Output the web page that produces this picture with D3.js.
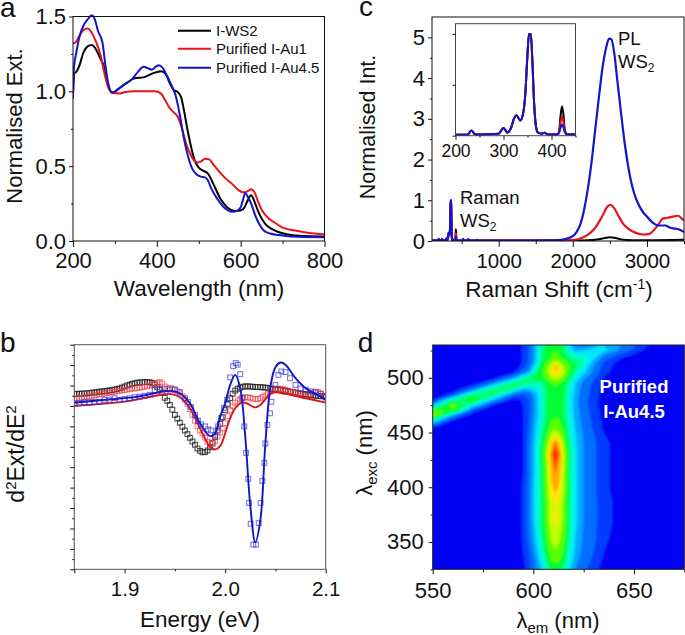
<!DOCTYPE html>
<html><head><meta charset="utf-8">
<script src="https://cdnjs.cloudflare.com/ajax/libs/d3/7.8.5/d3.min.js"></script>
<style>html,body{margin:0;padding:0;background:#fff}svg{display:block}text{font-family:"Liberation Sans",Arial,sans-serif;fill:#111}</style>
</head><body><svg id="c" width="685" height="635"></svg>
<script>
// ---------- panel a
const extLegend = ["I-WS2","Purified I-Au1","Purified I-Au4.5"];
const extBlack = [[200,.98],[203,1.12],[208,1.13],[215,1.17],[225,1.26],[235,1.30],[245,1.31],[255,1.28],[265,1.22],[272,1.18],[280,1.08],[288,1.01],[295,.99],[310,1.02],[330,1.06],[345,1.085],[370,1.095],[390,1.12],[410,1.135],[420,1.12],[430,1.06],[440,1.01],[450,.995],[458,.96],[465,.87],[472,.76],[480,.65],[490,.54],[500,.49],[510,.47],[522,.45],[530,.41],[540,.35],[550,.29],[560,.25],[570,.22],[580,.205],[590,.20],[600,.205],[608,.22],[615,.26],[625,.305],[632,.27],[640,.21],[650,.15],[660,.11],[675,.08],[690,.06],[710,.045],[740,.035],[800,.03]];
const extRed = [[200,1.32],[207,1.33],[215,1.37],[225,1.41],[235,1.42],[245,1.39],[255,1.33],[265,1.25],[275,1.12],[285,1.02],[295,.99],[310,.985],[325,.995],[345,1.0],[370,1.0],[395,1.0],[410,.985],[420,.94],[430,.89],[440,.86],[450,.83],[460,.75],[470,.65],[480,.58],[490,.535],[497,.525],[505,.53],[515,.55],[525,.545],[535,.51],[550,.46],[565,.415],[580,.38],[595,.34],[605,.325],[615,.33],[625,.345],[633,.325],[642,.26],[652,.2],[665,.155],[680,.125],[700,.09],[730,.07],[760,.055],[800,.045]];
const extBlue = [[200,.95],[202,1.15],[208,1.26],[215,1.36],[225,1.44],[235,1.48],[245,1.51],[252,1.48],[260,1.40],[270,1.33],[278,1.16],[285,1.04],[293,.99],[305,1.01],[320,1.04],[340,1.08],[355,1.13],[368,1.165],[378,1.155],[388,1.145],[398,1.165],[405,1.175],[413,1.16],[425,1.10],[435,1.04],[445,.97],[455,.84],[465,.68],[475,.56],[485,.48],[495,.445],[505,.43],[515,.425],[522,.405],[530,.35],[540,.30],[550,.26],[560,.225],[570,.205],[580,.195],[590,.2],[600,.225],[605,.27],[611,.32],[618,.29],[625,.25],[635,.17],[645,.11],[655,.07],[670,.05],[690,.04],[720,.03],[800,.025]];
// ---------- panel c
const ramanCommon = [[100,.01],[185,.01],[190,.05],[196,.01],[225,.01],[233,.05],[241,.012],[270,.015],[290,.02],[300,.075],[308,.03],[316,.08],[322,.17],[327,.2],[335,.15],[340,.2],[345,.38],[350,.8],[353,1.0],[357,1.0],[360,.75],[364,.3],[368,.08],[372,.03],[380,.02],[385,.03],[392,.012],[412,.012]];
const ramanBlackEnd = [[416,.05],[419,.2],[422,.29],[425,.2],[428,.05],[433,.012]];
const ramanRedEnd = [[416,.04],[419,.13],[422,.19],[425,.13],[428,.04],[433,.012]];
const ramanBlueEnd = [[416,.03],[419,.08],[422,.11],[425,.08],[428,.03],[433,.012],[510,.01],[520,.05],[532,.01],[578,.01],[590,.05],[602,.01],[692,.01],[705,.03],[718,.01]];
const plBlack = [[1000,.01],[2100,.01],[2300,.03],[2400,.06],[2500,.09],[2560,.08],[2650,.04],[2800,.02],[3000,.02],[3500,.03]];
const plRed = [[1000,.01],[1600,.01],[1660,.025],[1720,.01],[1900,.01],[2000,.02],[2100,.06],[2200,.15],[2300,.32],[2400,.62],[2470,.85],[2510,.89],[2560,.8],[2620,.6],[2680,.42],[2750,.3],[2850,.2],[2950,.16],[3030,.17],[3100,.28],[3170,.45],[3210,.55],[3280,.57],[3350,.6],[3420,.62],[3470,.55],[3500,.5]];
const plBlue = [[1000,.01],[1500,.01],[1800,.02],[1900,.05],[2000,.12],[2050,.22],[2100,.4],[2150,.75],[2200,1.25],[2250,1.9],[2300,2.7],[2350,3.5],[2400,4.25],[2450,4.75],[2490,4.97],[2520,4.95],[2560,4.6],[2600,3.95],[2650,3.15],[2700,2.4],[2750,1.8],[2800,1.35],[2850,1.05],[2900,.85],[2950,.7],[3000,.6],[3050,.5],[3100,.42],[3150,.38],[3200,.38],[3250,.38],[3300,.34],[3350,.31],[3400,.3],[3450,.27],[3500,.22]];
// ---------- panel b
const energyGrid = d3.range(101).map(i => 1.85 + i*0.0025);
const d2Black = [.58,.59,.60,.60,.61,.62,.63,.65,.66,.68,.70,.71,.72,.74,.76,.78,.80,.83,.86,.90,.95,1.00,1.04,1.08,1.11,1.14,1.15,1.16,1.17,1.17,1.16,1.13,1.05,.92,.80,.65,.40,.25,.05,-.18,-.44,-.62,-.82,-1.02,-1.2,-1.38,-1.56,-1.74,-1.9,-2.08,-2.2,-2.27,-2.26,-2.18,-2.02,-1.8,-1.52,-1.2,-.88,-.55,-.2,.1,.38,.6,.75,.84,.9,.94,.96,.96,.95,.94,.93,.93,.92,.91,.9,.88,.86,.84,.82,.8,.78,.76,.75,.72,.7,.67,.65,.62,.6,.59,.57,.55,.54,.52,.5,.49,.48,.47,.46];
const d2Red = [.33,.35,.38,.40,.42,.45,.47,.50,.52,.55,.57,.59,.61,.63,.65,.68,.70,.72,.74,.76,.78,.80,.83,.86,.85,.88,.90,.92,.95,.97,1.0,1.05,1.08,1.13,1.17,1.1,.95,.85,.88,.85,.8,.72,.62,.48,.3,.1,-.15,-.44,-.72,-.98,-1.2,-1.34,-1.55,-1.75,-1.85,-1.87,-1.72,-1.5,-1.3,-1.1,-.85,-.5,-.2,-.02,.16,.26,.34,.4,.42,.42,.4,.36,.33,.34,.38,.45,.52,.6,.7,.78,.82,.85,.84,.82,.78,.74,.7,.68,.66,.62,.6,.52,.46,.5,.58,.65,.7,.68,.6,.5,.43];
const blueEnergy = [1.85,1.855,1.86,1.865,1.87,1.875,1.88,1.885,1.89,1.895,1.9,1.905,1.91,1.915,1.92,1.925,1.93,1.935,1.94,1.945,1.95,1.955,1.96,1.963,1.966,1.97,1.973,1.976,1.98,1.983,1.986,1.99,1.993,1.996,1.999,2.002,2.005,2.008,2.0105,2.0125,2.015,2.017,2.019,2.0208,2.023,2.0238,2.0254,2.028,2.0307,2.0334,2.0353,2.037,2.039,2.04,2.042,2.0446,2.046,2.05,2.053,2.056,2.06,2.0645,2.07,2.075,2.08,2.085,2.09,2.095,2.1];
const d2BlueData = [.14,.16,.18,.18,.2,.2,.3,.3,.38,.3,.34,.38,.43,.46,.5,.55,.78,.82,.82,.8,.8,.68,.38,.2,-.05,-.44,-.72,-.9,-1.0,-1.15,-1.2,-1.42,-1.0,-.6,-.1,.3,1.4,1.95,2.1,2.02,1.56,.4,-1.0,-2.3,-3.57,-4.75,-5.77,-6.79,-6.79,-5.74,-4.75,-3.67,-2.79,-1.84,-.93,-.36,.2,1.03,1.52,1.69,1.66,1.36,1.03,.85,.8,.72,.66,.6,.4];
const fitRed = [[1.85,0],[1.90,.21],[1.93,.49],[1.945,.59],[1.955,.43],[1.965,-.11],[1.975,-1.1],[1.985,-2],[1.99,-2.13],[1.995,-1.97],[2.0,-1.34],[2.005,-.6],[2.01,-.11],[2.015,.13],[2.02,.16],[2.03,-.07],[2.035,.05],[2.045,.59],[2.05,.67],[2.06,.59],[2.08,.38],[2.1,.16]];
const fitBlue = [[1.85,.16],[1.88,.3],[1.91,.43],[1.93,.62],[1.945,.74],[1.955,.62],[1.965,.13],[1.975,-.85],[1.985,-1.48],[1.99,-1.34],[1.995,-.52],[2.0,.13],[2.005,1.03],[2.01,1.52],[2.015,.87],[2.02,-1.5],[2.025,-4.87],[2.03,-6.67],[2.035,-5.6],[2.04,-1.84],[2.045,.95],[2.05,1.9],[2.055,2.13],[2.06,2.02],[2.07,1.36],[2.08,.87],[2.09,.59],[2.1,.33]];
// ---------- panel d
const emGrid = [550,560,570,580,590,595,598,601,604,607,609,611,613,615,618,621,625,630,635,645,660,675];
const excGrid = [325,340,355,370,385,400,415,430,440,450,455,460,465,470,475,480,485,490,495,500,505,510,515,520,525,530];
const plMap = [
[0,0,0,0,0,.03,.08,.14,.22,.33,.42,.45,.42,.36,.24,.16,.11,.08,.02,0,0,0],
[0,0,0,0,0,.05,.1,.18,.3,.44,.53,.56,.53,.46,.3,.2,.14,.1,.05,0,0,0],
[0,0,0,0,0,.06,.13,.22,.35,.5,.6,.65,.6,.52,.34,.22,.15,.11,.07,0,0,0],
[0,0,0,0,0,.06,.14,.25,.37,.54,.66,.71,.66,.56,.36,.24,.16,.11,.08,.01,0,0],
[0,0,0,0,0,.06,.14,.25,.37,.54,.66,.7,.66,.56,.36,.24,.16,.11,.08,.01,0,0],
[0,0,0,0,0,.06,.14,.25,.38,.58,.74,.8,.74,.6,.37,.24,.16,.11,.07,0,0,0],
[0,0,0,0,0,.05,.13,.24,.38,.6,.78,.85,.78,.62,.37,.24,.16,.11,.07,0,0,0],
[0,0,0,0,0,.05,.13,.24,.4,.64,.84,.98,.84,.64,.38,.24,.16,.11,.07,0,0,0],
[0,0,0,0,0,.05,.13,.24,.38,.58,.76,.86,.76,.58,.36,.23,.16,.11,.07,0,0,0],
[0,0,0,0,0,.05,.12,.22,.34,.48,.58,.62,.58,.48,.32,.22,.15,.1,.05,0,0,0],
[.06,0,0,0,0,.05,.11,.21,.32,.45,.53,.55,.53,.45,.31,.21,.14,.09,.04,0,0,0],
[.25,.03,0,0,0,.05,.11,.2,.31,.42,.48,.5,.48,.42,.3,.2,.14,.09,.04,0,0,0],
[.54,.15,.01,0,0,.05,.1,.19,.3,.41,.46,.48,.46,.41,.29,.19,.13,.08,.03,0,0,0],
[.5,.47,.08,0,0,.05,.1,.18,.3,.4,.45,.47,.45,.4,.28,.19,.13,.08,.03,0,0,0],
[.2,.55,.27,.05,0,.05,.1,.18,.3,.4,.45,.46,.45,.4,.28,.18,.12,.07,.02,0,0,0],
[.04,.34,.5,.2,.03,.06,.1,.18,.3,.4,.45,.46,.45,.4,.28,.18,.12,.07,.02,0,0,0],
[0,.08,.36,.41,.14,.1,.12,.2,.31,.4,.45,.46,.45,.41,.29,.19,.13,.08,.03,0,0,0],
[0,.01,.13,.38,.34,.22,.22,.25,.32,.41,.46,.47,.46,.42,.3,.2,.13,.08,.03,0,0,0],
[0,0,.02,.16,.38,.4,.36,.34,.34,.42,.48,.5,.48,.44,.32,.22,.14,.09,.04,0,0,0],
[0,0,0,.03,.18,.32,.4,.42,.44,.52,.6,.64,.6,.53,.4,.28,.18,.11,.05,0,0,0],
[0,0,0,0,.04,.14,.2,.36,.46,.58,.68,.75,.72,.62,.46,.34,.24,.14,.07,0,0,0],
[0,0,0,0,0,.08,.14,.28,.42,.56,.68,.8,.72,.58,.5,.4,.28,.16,.08,0,0,0],
[0,0,0,0,0,.06,.11,.2,.38,.48,.56,.6,.58,.5,.44,.38,.33,.2,.1,.02,0,0],
[0,0,0,0,0,.06,.11,.2,.36,.44,.48,.5,.48,.42,.34,.3,.3,.26,.15,.06,0,0],
[0,0,0,0,0,.06,.11,.2,.36,.44,.47,.48,.46,.4,.28,.2,.22,.27,.24,.13,0,0],
[0,0,0,0,0,.06,.11,.2,.36,.42,.45,.45,.43,.37,.24,.14,.12,.17,.22,.15,.03,0]];
const levelValues = [.05,.1,.16,.22,.28,.34,.4,.48,.58,.68,.76,.84,.92];
const levelColors = ["#003cff","#006eff","#00a8ff","#00e6ff","#00ffc8","#00ff82","#00ff32","#5aff00","#beff00","#ffe600","#ffaa00","#ff5a00","#ff1e00"];

const BLACK="#000", RED="#e8141c", BLUE="#1414c8";
const svg = d3.select("#c");
let clipN = 0;
function txt(p,x,y,s,size,anchor,rot){
  const t=p.append("text").attr("x",x).attr("y",y).attr("font-size",size).attr("text-anchor",anchor||"start").text(s);
  if(rot) t.attr("transform",`rotate(${rot} ${x} ${y})`);
  return t;
}
function frame(box,col){
  svg.append("rect").attr("x",box.l).attr("y",box.t).attr("width",box.r-box.l).attr("height",box.b-box.t).attr("fill","none").attr("stroke",col||"#111").attr("stroke-width",1);
}
function clip(box){
  const id="cl"+(++clipN);
  svg.append("clipPath").attr("id",id).append("rect").attr("x",box.l).attr("y",box.t).attr("width",box.r-box.l).attr("height",box.b-box.t);
  return svg.append("g").attr("clip-path",`url(#${id})`);
}
function ticks(orient,scale,vals,size,pos,fmt,fs,col,pad){
  const a=orient(scale).tickValues(vals).tickSize(size).tickPadding(pad||3).tickFormat(fmt||"");
  const g=svg.append("g").attr("transform",orient===d3.axisBottom?`translate(0,${pos})`:`translate(${pos},0)`).call(a);
  g.select(".domain").remove();
  g.selectAll("line").attr("stroke",col||"#111");
  g.selectAll("text").attr("font-size",fs||0).attr("fill","#111").attr("font-family",'"Liberation Sans",Arial,sans-serif');
  return g;
}
function drawLine(g,data,x,y,col,w,curve){
  g.append("path").datum(data).attr("fill","none").attr("stroke",col).attr("stroke-width",w).attr("stroke-linejoin","round")
   .attr("d",d3.line().x(d=>x(d[0])).y(d=>y(d[1])).curve(curve||d3.curveMonotoneX));
}
const defs=svg.append("defs");
defs.append("filter").attr("id","softMarks").attr("x","-5%").attr("y","-5%").attr("width","110%").attr("height","110%").append("feGaussianBlur").attr("stdDeviation",.4);

// ===== a
{
 const b={l:73,r:324.5,t:16.5,b:241};
 const x=d3.scaleLinear([200,800],[b.l,b.r]), y=d3.scaleLinear([0,1.5],[b.b,b.t]);
 const g=clip({l:b.l,r:b.r,t:b.t-2,b:b.b});
 [[extBlack,BLACK],[extRed,RED],[extBlue,BLUE]].forEach(([d,c])=>drawLine(g,d,x,y,c,2));
 frame(b);
 ticks(d3.axisBottom,x,[300,500,700],3,b.b);
 ticks(d3.axisBottom,x,[200,400,600,800],6,b.b,d3.format("d"),22,null,5);
 ticks(d3.axisLeft,y,[.25,.75,1.25],2,b.l);
 ticks(d3.axisLeft,y,[0,.5,1,1.5],4,b.l,d3.format(".1f"),22,null,3);
 [BLACK,RED,BLUE].forEach((c,i)=>{
  const ly=[30.7,48.7,67.7][i];
  svg.append("line").attr("x1",178).attr("x2",211).attr("y1",ly).attr("y2",ly).attr("stroke",c).attr("stroke-width",2);
  txt(svg,216,ly+5.5,extLegend[i],15);
 });
 txt(svg,199,296,"Wavelength (nm)",22.5,"middle");
 txt(svg,22,126,"Normalised Ext.",22,"middle",-90);
 txt(svg,0,16.5,"a",28);
}
// ===== c
{
 const b={l:432,r:684,t:17,b:241};
 const x=d3.scaleLinear([100,3500],[b.l,b.r]), y=d3.scaleLinear([0,5.5],[b.b,b.t]);
 const g=clip(b);
 const blk=ramanCommon.concat(ramanBlackEnd,plBlack), red=ramanCommon.concat(ramanRedEnd,plRed), blu=ramanCommon.concat(ramanBlueEnd,plBlue);
 drawLine(g,blk,x,y,BLACK,2);drawLine(g,red,x,y,RED,2.2);drawLine(g,blu,x,y,BLUE,2.2);
 frame(b);
 ticks(d3.axisBottom,x,[500,1500,2500,3500],3,b.b);
 ticks(d3.axisBottom,x,[1000,2000,3000],6,b.b,d3.format("d"),20.5,null,6);
 ticks(d3.axisLeft,y,[.5,1.5,2.5,3.5,4.5],2,b.l);
 ticks(d3.axisLeft,y,[0,1,2,3,4,5],4,b.l,d3.format("d"),22,null,3);
 // inset
 const ib={l:455.5,r:575.5,t:23.7,b:135.7};
 const ix=d3.scaleLinear([200,450],[ib.l,ib.r]), iy=d3.scaleLinear([0,1.1],[ib.b,ib.t]);
 const ig=clip(ib);
 drawLine(ig,blk,ix,iy,BLACK,2);drawLine(ig,red,ix,iy,RED,2);drawLine(ig,blu,ix,iy,BLUE,2);
 frame(ib,"#444");
 ticks(d3.axisBottom,ix,[250,350,450],2,ib.b);
 ticks(d3.axisBottom,ix,[200,300,400],4,ib.b,d3.format("d"),17.5,null,5);
 ticks(d3.axisLeft,iy,[0,.5,1],3,ib.l);
 txt(svg,618,45,"PL",18.5);
 const t2=txt(svg,618,68,"WS",18.5); t2.append("tspan").attr("dy",4).attr("font-size",12).text("2");
 txt(svg,460,204,"Raman",18.5);
 const t3=txt(svg,460,226.7,"WS",18.5); t3.append("tspan").attr("dy",4).attr("font-size",12).text("2");
 const xl=txt(svg,559,297,"Raman Shift (cm",22.5,"middle");
 xl.append("tspan").attr("dy",-8).attr("font-size",14).text("-1");
 xl.append("tspan").attr("dy",8).text(")");
 txt(svg,375,127,"Normalised Int.",21.5,"middle",-90);
 txt(svg,359,16,"c",28);
}
// ===== b
{
 const b={l:74.3,r:325.7,t:344.7,b:569.3};
 const x=d3.scaleLinear([1.85,2.1],[b.l,b.r]), y=d3.scaleLinear([-8,3],[b.b,b.t]);
 const g=clip(b).append("g").attr("filter","url(#softMarks)");
 const sq=(e,v,c,op)=>{g.append("g").selectAll("rect").data(v).join("rect")
   .attr("x",(d,i)=>x(e[i])-2.4).attr("y",d=>y(d)-2.4).attr("width",4.8).attr("height",4.8)
   .attr("fill","none").attr("stroke",c).attr("stroke-width",1.1).attr("stroke-opacity",op);};
 sq(energyGrid,d2Black,"#222",.8);
 sq(energyGrid,d2Red,"#e8343c",.6);
 drawLine(g,fitRed,x,y,"#d8141c",1.9,d3.curveCatmullRom);
 sq(blueEnergy,d2BlueData,"#3030d0",.65);
 drawLine(g,fitBlue,x,y,BLUE,1.9,d3.curveCatmullRom);
 frame(b,"#555");
 ticks(d3.axisBottom,x,[1.95,2.05],2,b.b);
 ticks(d3.axisBottom,x,[1.85,1.9,2.0,2.1],4,b.b,d=>d===1.85?"":d3.format(".1f")(d),20.5,null,8);
 ticks(d3.axisLeft,y,d3.range(-7.5,3,1),2,b.l);
 ticks(d3.axisLeft,y,d3.range(-8,4,1),4,b.l);
 txt(svg,200,626.7,"Energy (eV)",22.5,"middle");
 const yl=txt(svg,24,454,"d",23,"middle",-90);
 yl.append("tspan").attr("dy",-8).attr("font-size",15).text("2");
 yl.append("tspan").attr("dy",8).text("Ext/dE");
 yl.append("tspan").attr("dy",-8).attr("font-size",15).text("2");
 txt(svg,0,351.7,"b",28);
}
// ===== d
{
 const b={l:432.7,r:684.3,t:345,b:569.3};
 const x=d3.scaleLinear([550,675],[b.l,b.r]), y=d3.scaleLinear([325,530],[b.b,b.t]);
 const ci=d3.scaleLinear(d3.range(emGrid.length),emGrid), cj=d3.scaleLinear(d3.range(excGrid.length),excGrid);
 const proj=d3.geoTransform({point(px,py){this.stream.point(x(ci(px-.5)),y(cj(py-.5)));}});
 const path=d3.geoPath(proj);
 const color=d3.scaleThreshold(levelValues.slice(1),levelColors);
 const cs=d3.contours().size([emGrid.length,excGrid.length]).thresholds(levelValues)(plMap.flat());
 defs.append("filter").attr("id","soft").attr("x","-5%").attr("y","-5%").attr("width","110%").attr("height","110%")
    .append("feGaussianBlur").attr("stdDeviation",1);
 const g=clip(b);
 const inner=g.append("g").attr("filter","url(#soft)");
 inner.append("rect").attr("x",b.l-10).attr("y",b.t-10).attr("width",b.r-b.l+20).attr("height",b.b-b.t+20).attr("fill","#0000f5");
 inner.selectAll("path").data(cs).join("path").attr("d",path).attr("fill",d=>color(d.value));
 frame(b,"#222");
 ticks(d3.axisBottom,x,[575,625,675],3,b.b);
 ticks(d3.axisBottom,x,[550,600,650],5,b.b,d3.format("d"),22,null,8);
 ticks(d3.axisLeft,y,[325,375,425,475,525],2,b.l);
 ticks(d3.axisLeft,y,[350,400,450,500],4,b.l,d3.format("d"),22,null,5);
 txt(svg,634,393,"Purified",18.5,"middle").attr("font-weight","bold").style("fill","#fff");
 txt(svg,634,417.7,"I-Au4.5",18.5,"middle").attr("font-weight","bold").style("fill","#fff");
 const xl=txt(svg,558,628,"λ",22,"middle");
 xl.append("tspan").attr("dy",5).attr("font-size",15).text("em");
 xl.append("tspan").attr("dy",-5).text(" (nm)");
 const yl=txt(svg,372,453,"λ",22,"middle",-90);
 yl.append("tspan").attr("dy",5).attr("font-size",15).text("exc");
 yl.append("tspan").attr("dy",-5).text(" (nm)");
 txt(svg,357.7,351.7,"d",28);
}
</script></body></html>
